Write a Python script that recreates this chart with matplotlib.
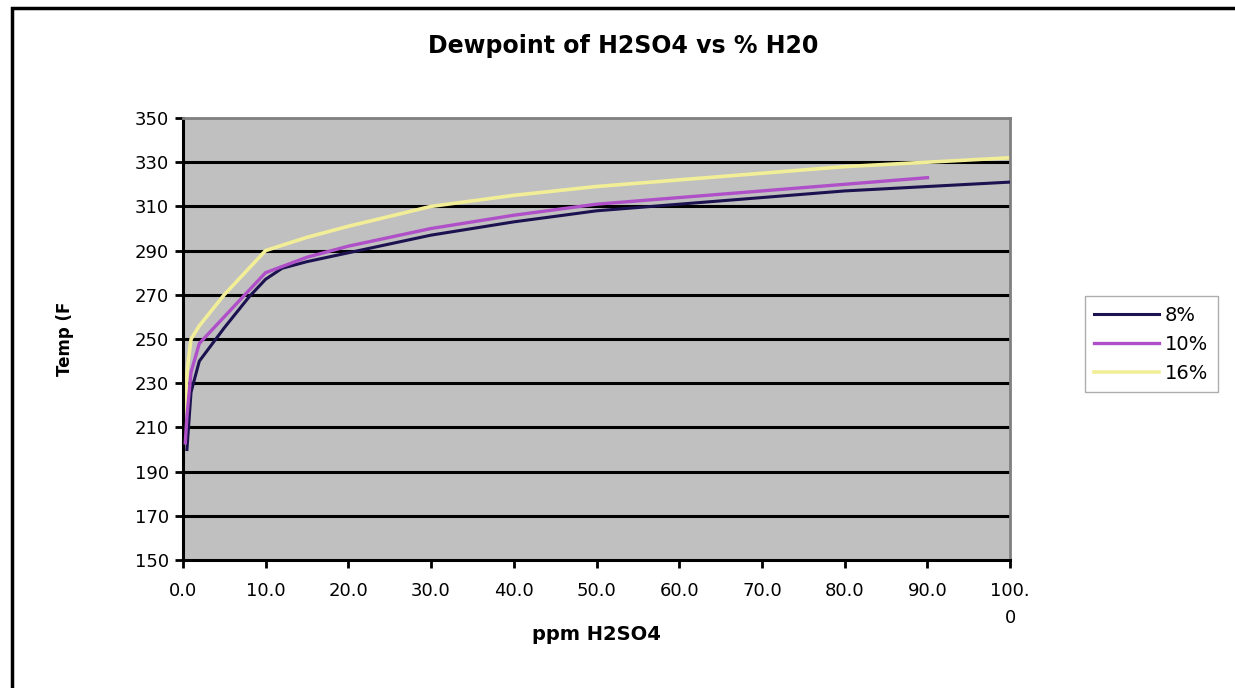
import matplotlib
matplotlib.use("Agg")
import matplotlib.pyplot as plt
from matplotlib.patches import Rectangle

# ppm H2SO4 vs dewpoint temperature, per % H2O
x_8 = [0.5, 1, 2, 5, 8, 10, 12, 15, 20, 30, 40, 50, 60, 70, 80, 90, 100]
y_8 = [200, 226, 240, 255, 269, 277, 282, 285, 289, 297, 303, 308, 311, 314, 317, 319, 321]

x_10 = [0.3, 0.5, 1, 2, 5, 10, 15, 20, 30, 40, 50, 60, 70, 80, 90]
y_10 = [203, 215, 235, 248, 260, 280, 287, 292, 300, 306, 311, 314, 317, 320, 323]

x_16 = [0.3, 0.5, 1, 2, 5, 10, 15, 20, 30, 40, 50, 60, 70, 80, 90, 100]
y_16 = [212, 235, 250, 256, 270, 290, 296, 301, 310, 315, 319, 322, 325, 328, 330, 332]

x_ticks = [0, 10, 20, 30, 40, 50, 60, 70, 80, 90, 100]
x_ticklabels = ["0.0", "10.0", "20.0", "30.0", "40.0", "50.0", "60.0",
                "70.0", "80.0", "90.0", "100.\n0"]
y_ticks = [150, 170, 190, 210, 230, 250, 270, 290, 310, 330, 350]

plt.rcParams["font.family"] = ["DejaVu Sans"]

fig = plt.figure(figsize=(12.35, 6.88), dpi=100)
ax = fig.add_axes([0.148, 0.186, 0.670, 0.6425])
ax.set_facecolor("#c0c0c0")

for yv in y_ticks[1:-1]:
    ax.axhline(yv, color="black", lw=2.2, zorder=1)

ax.plot(x_8, y_8, color="#1c1250", lw=2.2, label="8%", zorder=3)
ax.plot(x_10, y_10, color="#b050c8", lw=2.4, label="10%", zorder=3)
ax.plot(x_16, y_16, color="#f2ee98", lw=2.6, label="16%", zorder=2)

ax.set_xlim(0, 100)
ax.set_ylim(150, 350)
ax.set_xticks(x_ticks)
ax.set_xticklabels(x_ticklabels, fontsize=13, linespacing=1.6, va="top")
ax.set_yticks(y_ticks)
ax.set_yticklabels([str(v) for v in y_ticks], fontsize=13)
ax.tick_params(axis="x", direction="out", length=6, width=2, color="black", pad=10)
ax.tick_params(axis="y", direction="out", length=6, width=2, color="black", pad=4)

ax.spines["left"].set_linewidth(2.2)
ax.spines["bottom"].set_linewidth(2.2)
ax.spines["top"].set_color("#808080")
ax.spines["right"].set_color("#808080")
ax.spines["top"].set_linewidth(2)
ax.spines["right"].set_linewidth(2)

ax.set_xlabel("ppm H2SO4", fontsize=14, fontweight="bold", labelpad=-1)
ax.set_ylabel("Temp (F", fontsize=12, fontweight="bold", labelpad=44)
fig.text(0.505, 0.933, "Dewpoint of H2SO4 vs % H20", ha="center", va="center",
         fontsize=17, fontweight="bold")

leg = ax.legend(loc="center left", bbox_to_anchor=(1.09, 0.488), frameon=True,
                fontsize=14, handlelength=3.3, borderaxespad=0, fancybox=False,
                edgecolor="#999999", labelspacing=0.5, handletextpad=0.3,
                borderpad=0.5)

fig.patches.append(Rectangle((12 / 1235, -0.05), 1.1, 1 - 8 / 688 + 0.05,
                             transform=fig.transFigure, fill=False,
                             edgecolor="black", lw=2.5, clip_on=False))

fig.savefig("out.png", dpi=100)
